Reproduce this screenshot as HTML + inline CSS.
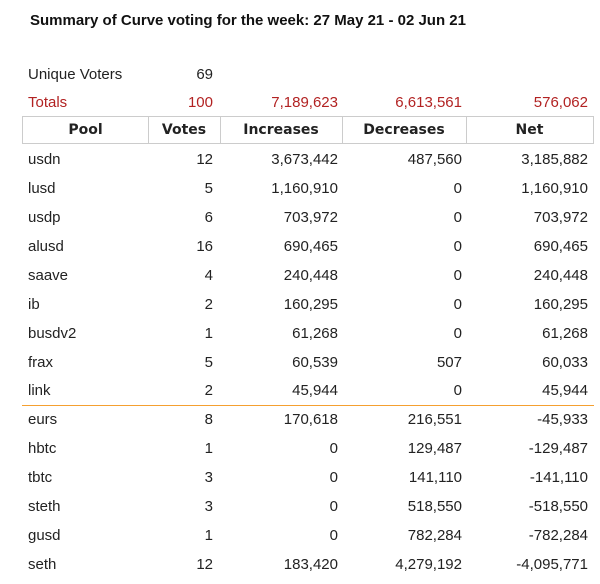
<!DOCTYPE html>
<html><head><meta charset="utf-8"><style>
body{margin:0;width:600px;height:584px;background:#fff;font-family:"Liberation Sans",Arial,sans-serif;position:relative;overflow:hidden}
.t{position:absolute;font-size:15px;color:#222;line-height:18px;white-space:nowrap}
.r{text-align:right}
.red{color:#b22222}
.h{position:absolute;top:116px;height:28px;border:1px solid #ccc;box-sizing:border-box;font-weight:bold;font-size:14px;color:#222;text-align:center;line-height:26px;font-family:"DejaVu Sans","Liberation Sans",sans-serif}
</style></head><body>
<div class="t" style="left:30px;top:12px;font-weight:bold;font-size:15px;color:#111">Summary of Curve voting for the week: 27 May 21 - 02 Jun 21</div>
<div class="t" style="left:28px;top:66px">Unique Voters</div>
<div class="t r" style="left:150px;width:63px;top:66px">69</div>
<div class="t red" style="left:28px;top:94px">Totals</div>
<div class="t r red" style="left:150px;width:63px;top:94px">100</div>
<div class="t r red" style="left:220px;width:118px;top:94px">7,189,623</div>
<div class="t r red" style="left:342px;width:120px;top:94px">6,613,561</div>
<div class="t r red" style="left:466px;width:122px;top:94px">576,062</div>
<div class="h" style="left:22px;width:127px">Pool</div>
<div class="h" style="left:148px;width:73px;border-left:none">Votes</div>
<div class="h" style="left:220px;width:123px;border-left:none">Increases</div>
<div class="h" style="left:342px;width:125px;border-left:none">Decreases</div>
<div class="h" style="left:466px;width:128px;border-left:none">Net</div>
<div style="position:absolute;left:22px;width:572px;top:405px;height:1px;background:#f5a030"></div>
<div id="rows"></div>
<script>
const pools=["usdn","lusd","usdp","alusd","saave","ib","busdv2","frax","link","eurs","hbtc","tbtc","steth","gusd","seth"];
const votes=["12","5","6","16","4","2","1","5","2","8","1","3","3","1","12"];
const increases=["3,673,442","1,160,910","703,972","690,465","240,448","160,295","61,268","60,539","45,944","170,618","0","0","0","0","183,420"];
const decreases=["487,560","0","0","0","0","0","0","507","0","216,551","129,487","141,110","518,550","782,284","4,279,192"];
const net=["3,185,882","1,160,910","703,972","690,465","240,448","160,295","61,268","60,033","45,944","-45,933","-129,487","-141,110","-518,550","-782,284","-4,095,771"];
const cols=[[pools,28,110,false,'pool'],[votes,150,63,true,'votes'],[increases,220,118,true,'increases'],[decreases,342,120,true,'decreases'],[net,466,122,true,'net']];
const root=document.getElementById('rows');
pools.forEach((p,i)=>{
  const top=151+i*28.93;
  cols.forEach(c=>{
    const d=document.createElement('div');
    d.className='t'+(c[3]?' r':'');
    d.style.left=c[1]+'px';d.style.width=c[2]+'px';d.style.top=top+'px';
    d.textContent=c[0][i];
    
    
    root.appendChild(d);
  });
});
</script>
</body></html>
